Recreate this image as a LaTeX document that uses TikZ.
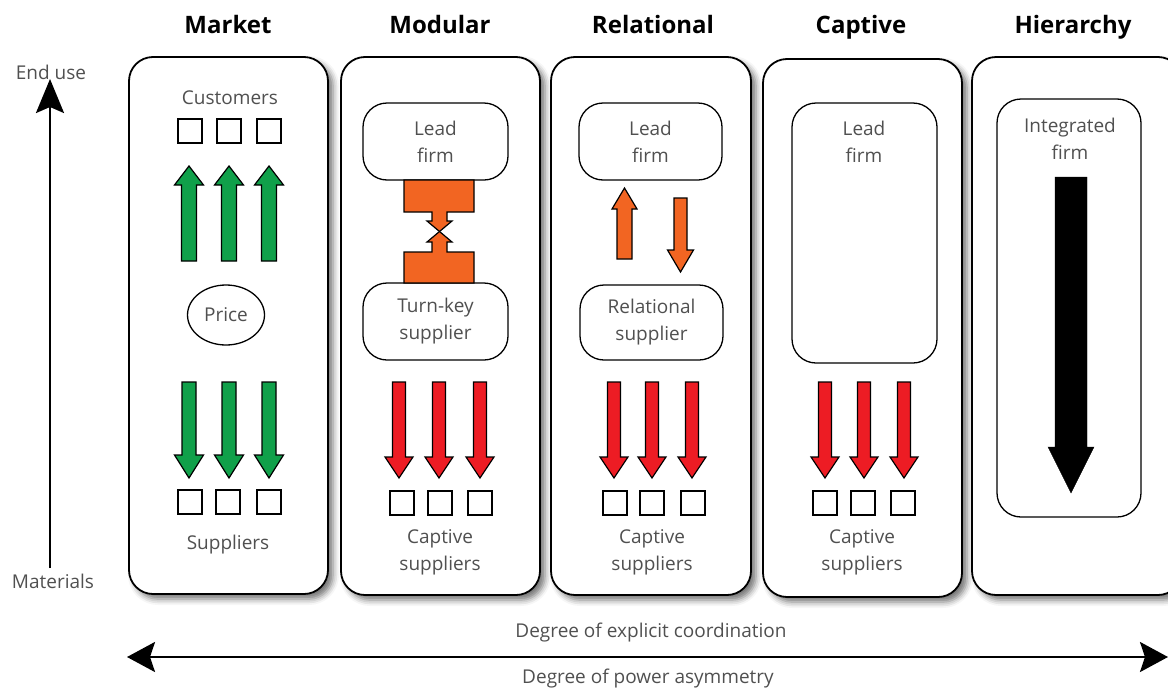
\documentclass[tikz,border=0pt]{standalone}
\usepackage{fontspec}
\setmainfont{Open Sans}
\usetikzlibrary{shadows.blur,shapes.geometric,arrows.meta}
\definecolor{tgray}{HTML}{505050}
\definecolor{mgreen}{HTML}{10A04A}
\definecolor{mred}{HTML}{ED1C24}
\definecolor{morange}{HTML}{F26522}
\newcommand\blockarr[7]{% x, tail y, head-base y, tip y, half shaft, half head, colour
  \draw[arrowshape, fill=#7] ({#1-#5},#2) -- ({#1+#5},#2) -- ({#1+#5},#3) -- ({#1+#6},#3)
    -- (#1,#4) -- ({#1-#6},#3) -- ({#1-#5},#3) -- cycle;}
\begin{document}
\begin{tikzpicture}[x=1pt,y=-1pt,
  panel/.style={draw=black, line width=1.8pt, fill=white, rounded corners=24pt,
    blur shadow={shadow xshift=5pt, shadow yshift=-5pt, shadow blur radius=6pt, shadow opacity=55}},
  firm/.style={draw=black, line width=1.3pt, fill=white, rounded corners=24pt,
    text=tgray, align=center, font=\fontsize{19}{27}\selectfont, inner sep=0pt},
  lbl/.style={text=tgray, align=center, font=\fontsize{19}{27}\selectfont, inner sep=0pt},
  hdr/.style={text=black, font=\fontsize{24}{28}\selectfont\bfseries, inner sep=0pt, anchor=base},
  sq/.style={draw=black, line width=1.3pt, fill=white, minimum width=24pt, minimum height=24pt, inner sep=0pt},
  arrowshape/.style={draw=black, line width=1.2pt, line join=miter},
  axis/.style={line width=2.5pt, draw=black}
]
\useasboundingbox (0,0) rectangle (1168,691);
\clip (0,0) rectangle (1168,691);

% headers
\node[hdr] (hmarket) at (228,33) {Market};
\node[hdr] (hmodular) at (440,33) {Modular};
\node[hdr] (hrel) at (653,33) {Relational};
\node[hdr] (hcapt) at (861,33) {Captive};
\node[hdr] (hhier) at (1073,33) {Hierarchy};

% panels
\node[panel, minimum width=199pt, minimum height=537pt] (p1) at (228.5,325.5) {};
\node[panel, minimum width=199pt, minimum height=538pt] (p2) at (440.5,326) {};
\node[panel, minimum width=200pt, minimum height=538pt] (p3) at (651,326) {};
\node[panel, minimum width=199pt, minimum height=538pt] (p4) at (862.5,328) {};
\node[panel, minimum width=210pt, minimum height=538pt] (p5) at (1077,326) {};

% ---- Market ----
\node[lbl] (cust) at (230,98) {Customers};
\node[sq] (c1) at (190,131) {};
\node[sq] (c2) at (229,131) {};
\node[sq] (c3) at (269,131) {};
\blockarr{189}{261}{185}{166}{7.5}{14.5}{mgreen}
\blockarr{229}{261}{185}{166}{7.5}{14.5}{mgreen}
\blockarr{269}{261}{185}{166}{7.5}{14.5}{mgreen}
\node[draw=black, line width=1.3pt, ellipse, minimum width=77pt, minimum height=60pt, inner sep=0pt,
  text=tgray, font=\fontsize{19}{27}\selectfont] (price) at (226,315) {Price};
\blockarr{189}{382}{455}{478}{7}{14.5}{mgreen}
\blockarr{229}{382}{455}{478}{7}{14.5}{mgreen}
\blockarr{269}{382}{455}{478}{7}{14.5}{mgreen}
\node[sq] (s1) at (190,502) {};
\node[sq] (s2) at (228,502) {};
\node[sq] (s3) at (269,502) {};
\node[lbl] (supp) at (228,545) {Suppliers};

% ---- Modular ----
\node[firm, minimum width=145pt, minimum height=77pt] (lf2) at (435.5,141.5) {Lead\\firm};
\node[firm, minimum width=145pt, minimum height=77pt] (tk2) at (435.5,321.5) {Turn-key\\supplier};
\draw[arrowshape, fill=morange] (404,180) -- (474,180) -- (474,212) -- (447,212) -- (447,221) -- (452,221)
  -- (439.5,231.5) -- (427,221) -- (432,221) -- (432,212) -- (404,212) -- cycle;
\draw[arrowshape, fill=morange] (404,283) -- (474,283) -- (474,252) -- (447,252) -- (447,242) -- (452,242)
  -- (439.5,231.5) -- (427,242) -- (432,242) -- (432,252) -- (404,252) -- cycle;
\blockarr{399}{382}{457}{478}{6.5}{14}{mred}
\blockarr{439}{382}{457}{478}{6.5}{14}{mred}
\blockarr{480}{382}{457}{478}{6.5}{14}{mred}
\node[sq] (m1) at (402,503) {};
\node[sq] (m2) at (440,503) {};
\node[sq] (m3) at (480,503) {};
\node[lbl] (capt2) at (440,552) {Captive\\suppliers};

% ---- Relational ----
\node[firm, minimum width=143pt, minimum height=77pt] (lf3) at (650.5,141.5) {Lead\\firm};
\node[firm, minimum width=143pt, minimum height=75pt] (rs3) at (651.5,322.5) {Relational\\supplier};
\blockarr{624.5}{259}{209}{188}{7.5}{12.5}{morange}
\blockarr{680.5}{198}{250}{272}{6.5}{13}{morange}
\blockarr{614}{382}{457}{478}{6.5}{14}{mred}
\blockarr{652}{382}{457}{478}{6.5}{14}{mred}
\blockarr{692}{382}{457}{478}{6.5}{14}{mred}
\node[sq] (r1) at (615,503) {};
\node[sq] (r2) at (652,503) {};
\node[sq] (r3) at (693,503) {};
\node[lbl] (capt3) at (652,552) {Captive\\suppliers};

% ---- Captive ----
\node[firm, minimum width=145pt, minimum height=260pt] (lf4) at (864.5,233) {};
\node[lbl] (lf4t) at (864,142) {Lead\\firm};
\blockarr{825}{382}{457}{478}{6.5}{14}{mred}
\blockarr{864}{382}{457}{478}{6.5}{14}{mred}
\blockarr{904}{382}{457}{478}{6.5}{14}{mred}
\node[sq] (k1) at (825,503) {};
\node[sq] (k2) at (863,503) {};
\node[sq] (k3) at (903,503) {};
\node[lbl] (capt4) at (862,552) {Captive\\suppliers};

% ---- Hierarchy ----
\node[firm, minimum width=144pt, minimum height=418pt] (if5) at (1069,308) {};
\node[lbl] (if5t) at (1070,139) {Integrated\\firm};
\draw[fill=black, draw=black] (1055,177) -- (1087,177) -- (1087,447) -- (1094,447) -- (1071,493)
  -- (1048,447) -- (1055,447) -- cycle;

% ---- left axis ----
\node[lbl] (enduse) at (51,72) {End use};
\node[lbl] (mater) at (53,581) {Materials};
\coordinate (axb) at (50,568);
\coordinate (axt) at (50,79);
\draw[axis, -{Stealth[length=34pt, width=28pt, inset=6pt]}] (axb) -- (axt);

% ---- bottom axis ----
\coordinate (bl) at (127,657);
\coordinate (br) at (1168,657);
\draw[axis, {Stealth[length=28pt, width=30pt, inset=5pt]}-{Stealth[length=28pt, width=30pt, inset=5pt]}] (bl) -- (br);
\node[lbl] (coord) at (651,633) {Degree of explicit coordination};
\node[lbl] (power) at (648,679) {Degree of power asymmetry};
\end{tikzpicture}
\end{document}
